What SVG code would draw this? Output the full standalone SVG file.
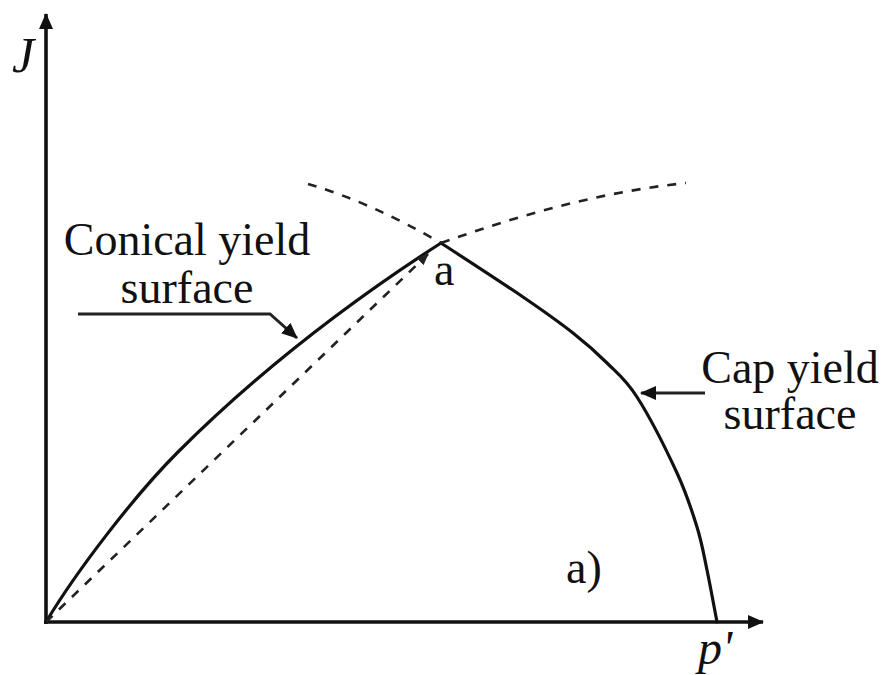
<svg xmlns="http://www.w3.org/2000/svg" width="889" height="675" viewBox="0 0 889 675">
<style>
text{font-family:'Liberation Serif','DejaVu Serif',serif;fill:#111}
.txt{font-size:46px}
.it{font-style:italic}
.solid{fill:none;stroke:#111;stroke-width:3.2;stroke-linecap:round;stroke-linejoin:round}
.axis{fill:none;stroke:#111;stroke-width:3.6}
.dash{fill:none;stroke:#222;stroke-width:2.6;stroke-dasharray:9 9}
.lead{fill:none;stroke:#222;stroke-width:3}
</style>
<defs>
<marker id="ah" viewBox="0 0 16 14" refX="15" refY="7" markerWidth="16" markerHeight="14" markerUnits="userSpaceOnUse" orient="auto">
<path d="M0,0 L16,7 L0,14 Z" fill="#111"/>
</marker>
<marker id="ahs" viewBox="0 0 12 10" refX="11" refY="5" markerWidth="12" markerHeight="10" markerUnits="userSpaceOnUse" orient="auto">
<path d="M0,0 L12,5 L0,10 Z" fill="#222"/>
</marker>
</defs>
<rect width="889" height="675" fill="#fff"/>
<g id="axes">
<line class="axis" x1="46" y1="624" x2="46" y2="14" marker-end="url(#ah)"/>
<line class="axis" x1="44" y1="622" x2="763" y2="622" marker-end="url(#ah)"/>
<text class="it" x="12" y="72" font-size="50" font-family="Liberation Serif, serif">J</text>
<text class="it" x="698" y="664" font-size="48" font-family="Liberation Serif, serif">p'</text>
</g>
<g id="conical-surface">
<path class="solid" d="M46,622 C76,572 133,497 178,452 C263,367 351,301 441,243"/>
</g>
<g id="cap-surface">
<path class="solid" d="M441,243 C454.7,252 501,282 523,297 C545,312 559,322 573,333 C587,344 596.3,352.3 607,363 C617.7,373.7 625.3,378.7 637,397 C648.7,415.3 667,451.3 677,473 C687,494.7 692,510.8 697,527 C702,543.2 703.7,554.2 707,570 C710.3,585.8 715.3,613.3 717,622"/>
</g>
<g id="connectors">
<path class="dash" d="M46,622 L428,254" marker-end="url(#ahs)"/>
<path class="dash" d="M308,184 Q370,202 441,243"/>
<path class="dash" d="M441,243 C520,215 600,192 686,183"/>
<path class="lead" d="M78,314 L270,314 L297,338" marker-end="url(#ah)"/>
<path class="lead" d="M705,393 L641,393" marker-end="url(#ah)"/>
</g>
<g id="label-conical">
<text class="txt" x="187" y="255" text-anchor="middle" font-family="Liberation Serif, serif">Conical yield</text>
<text class="txt" x="187" y="303" text-anchor="middle" font-family="Liberation Serif, serif">surface</text>
</g>
<g id="label-cap">
<text class="txt" x="790" y="383" text-anchor="middle" font-size="44" font-family="Liberation Serif, serif">Cap yield</text>
<text class="txt" x="790" y="429" text-anchor="middle" font-size="44" font-family="Liberation Serif, serif">surface</text>
</g>
<g id="label-a">
<text class="txt" x="434" y="285" font-family="Liberation Serif, serif">a</text>
</g>
<g id="label-a-paren">
<text class="txt" x="566" y="583" font-family="Liberation Serif, serif">a)</text>
</g>
</svg>
